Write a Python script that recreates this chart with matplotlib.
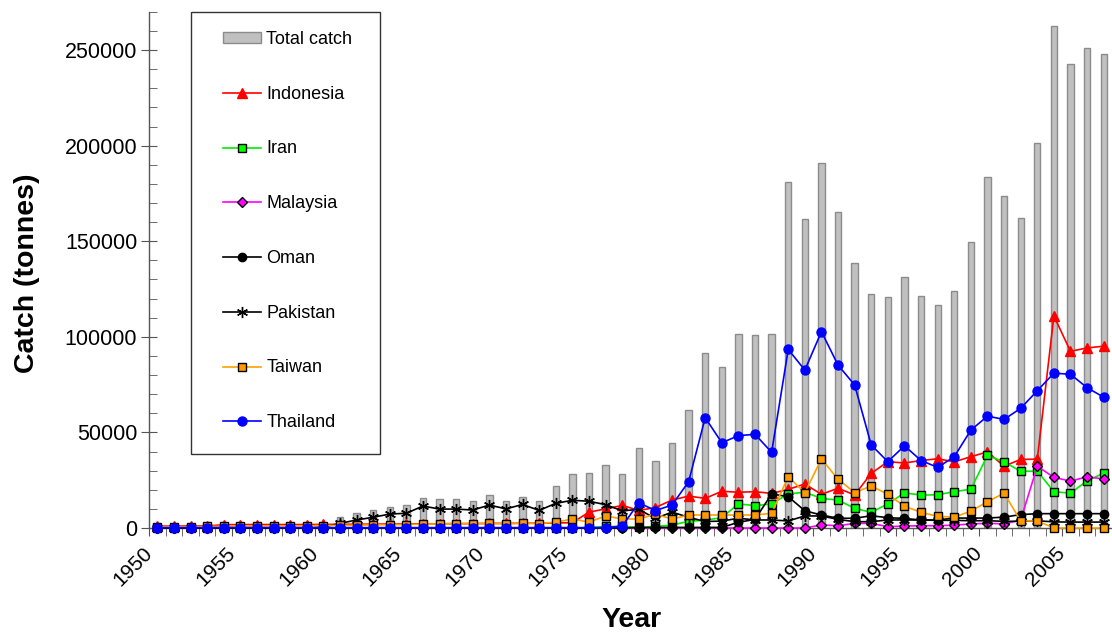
import numpy as np
import matplotlib
matplotlib.use('Agg')
import matplotlib.pyplot as plt
from matplotlib.patches import Rectangle

plt.rcParams['font.family'] = ['Liberation Sans', 'DejaVu Sans']

# Catch per year, 1950-2007 (tonnes)
years = np.arange(1950, 2008)

total = [1500, 1600, 1700, 1600, 2200, 2300, 2300, 2400, 2400, 2500, 2600,
         5900, 8000, 9400, 10800, 12200, 15900, 15000, 15000, 14300, 17200,
         14200, 16400, 14200, 22100, 28000, 28700, 32900, 28000, 42100, 35000,
         44300, 61700, 91300, 84400, 101500, 100800, 101500, 180800, 161400, 190700,
         165100, 138400, 122200, 120800, 131300, 121300, 116600, 124000, 149700, 183500,
         173500, 162000, 201400, 262400, 242700, 250900, 247800]

indonesia = [1000, 1000, 1100, 1100, 1700, 1800, 1800, 1800, 1800, 1800, 1900,
             1900, 2000, 2000, 2100, 2100, 2200, 2200, 2300, 2300, 2400,
             2400, 2500, 2500, 2600, 2800, 8300, 10000, 11800, 9200, 10700,
             14600, 16700, 15500, 19200, 18700, 19000, 18100, 20200, 23000, 17600,
             20800, 17300, 28600, 34700, 34000, 35300, 36200, 34600, 37300, 39800,
             32300, 35900, 36000, 110900, 92400, 94200, 95100]

iran = [0] * 26 + [200, 800, 800, 300, 800,
                   1500, 3500, 4000, 5500, 12600, 11700, 12600, 17800, 18700, 15500,
                   14600, 10300, 8200, 12600, 18400, 17200, 17400, 19000, 20300, 38000,
                   34600, 29700, 29700, 19000, 18200, 24700, 28700]

malaysia = [0] * 40 + [1600, 1200, 2400, 2400, 700, 1000, 1200, 1200, 1500, 2100, 2500,
                       2100, 4200, 32300, 26500, 24500, 26800, 25600]

oman = [0] * 29 + [300, 300, 300, 300, 300, 300,
                   3000, 4500, 17800, 16400, 9000, 6800,
                   5100, 5100, 6400, 5400, 5000, 4200, 4200, 5200, 5200, 5200,
                   5700, 7000, 7500, 7500, 7500, 7500, 7500]

pakistan = [0, 0, 0, 0, 0, 0, 0, 0, 0, 0, 500,
            2400, 4200, 5600, 7300, 7700, 11500, 9900, 9900, 9400, 12000,
            10000, 12300, 9200, 12900, 14500, 14000, 12200, 9000, 9700, 5000,
            8300, 5600, 3400, 3600, 5100, 4200, 4200, 3700, 6300, 6300,
            4500, 3300, 3300, 4200, 4200, 4200, 4000, 4000, 3800, 3800,
            3500, 3500, 3800, 3200, 3100, 3100, 3100]

taiwan = [600, 700, 700, 800, 900, 1000, 1000, 1100, 1100, 1200, 1300,
          1400, 1500, 1600, 1700, 1800, 2000, 2200, 2300, 2300, 2400,
          2300, 2400, 2300, 3100, 4700, 3100, 6300, 4700, 4700, 7200,
          4700, 6800, 6800, 6800, 6800, 6800, 7700, 26800, 18500, 36100,
          25500, 18500, 22000, 17600, 11400, 8200, 6100, 5700, 8800, 13800,
          18200, 3700, 3700, 0, 0, 0, 0]

thailand = [200] * 28 + [1000, 13200, 9100,
                         12000, 24200, 57700, 44600, 48300, 49000, 39600, 93400, 82600, 102700,
                         85200, 74800, 43400, 34700, 43000, 35300, 31700, 37300, 51200, 58500,
                         56800, 62600, 71800, 81000, 80400, 73400, 68400]

# name, values, line colour, marker, marker face, marker edge, marker size
series = [
    ('Indonesia', indonesia, '#ff0000', '^', '#ff0000', '#ff0000', 6.5),
    ('Iran', iran, '#00ee00', 's', '#00ff00', 'black', 5.2),
    ('Malaysia', malaysia, '#ff00ff', 'D', '#ff00ff', 'black', 4.6),
    ('Oman', oman, 'black', 'o', 'black', 'black', 6),
    ('Pakistan', pakistan, 'black', (6, 2, 0), 'black', 'black', 8),
    ('Taiwan', taiwan, '#ffa000', 's', '#ff9900', 'black', 5.2),
    ('Thailand', thailand, '#0000ff', 'o', '#0000ff', '#0000ff', 6.5),
]

W, H = 1112, 635
fig = plt.figure(figsize=(W / 100, H / 100), dpi=100)
ax = fig.add_axes([149 / W, 1 - 528 / H, 1 - 149 / W, (528 - 11.8) / H])

bars = ax.bar(years, total, width=0.38, color='#c0c0c0', edgecolor='#8c8c8c',
              linewidth=1, label='Total catch', zorder=1)

handles = [bars]
for name, vals, col, mk, mfc, mec, ms in series:
    ln, = ax.plot(years, vals, color=col, linewidth=1.2, marker=mk, markersize=ms,
                  markerfacecolor=mfc, markeredgecolor=mec, markeredgewidth=1,
                  label=name, clip_on=False, zorder=3)
    handles.append(ln)

ax.set_xlim(1949.5, 2007.5)
ax.set_ylim(0, 270000)

for s in ['top', 'right']:
    ax.spines[s].set_visible(False)
for s in ['left', 'bottom']:
    ax.spines[s].set_color('#555555')
    ax.spines[s].set_linewidth(1)

# y axis
ax.set_yticks(np.arange(0, 250001, 50000))
ax.set_yticklabels([str(v) for v in range(0, 250001, 50000)], fontsize=15.5)
ax.set_yticks(np.arange(0, 270001, 10000), minor=True)
ax.tick_params(axis='y', which='major', direction='inout', length=11, color='#555555', pad=3)
ax.tick_params(axis='y', which='minor', direction='in', length=6, color='#555555')

# x axis: ticks between years, labels every 5 years
label_years = list(range(1950, 2006, 5))
ax.set_xticks(np.array(label_years) - 0.5)
ax.set_xticklabels([str(y) for y in label_years], fontsize=15, rotation=45,
                   ha='right', va='center', rotation_mode='anchor')
ax.set_xticks(np.arange(1949.5, 2008, 1), minor=True)
ax.tick_params(axis='x', which='both', direction='out', length=6, color='#555555')
ax.tick_params(axis='x', which='major', pad=10)

fig.text(27 / W, 1 - 273 / H, 'Catch (tonnes)', rotation=90, fontsize=20.5,
         fontweight='bold', ha='center', va='center')
fig.text(632 / W, 1 - 620 / H, 'Year', fontsize=20.5, fontweight='bold',
         ha='center', va='center')

leg = ax.legend(handles=handles, loc='upper left', bbox_to_anchor=(223 / W, 1 - 31 / H),
                bbox_transform=fig.transFigure, frameon=False, fontsize=13,
                handlelength=2.1, handleheight=0.55, handletextpad=0.3,
                labelspacing=2.09, borderpad=0, borderaxespad=0)
fig.patches.append(Rectangle((191 / W, 1 - 454 / H), 189 / W, 442 / H,
                             transform=fig.transFigure, fill=False,
                             edgecolor='#333333', linewidth=1))

fig.savefig('out.png', dpi=100)
